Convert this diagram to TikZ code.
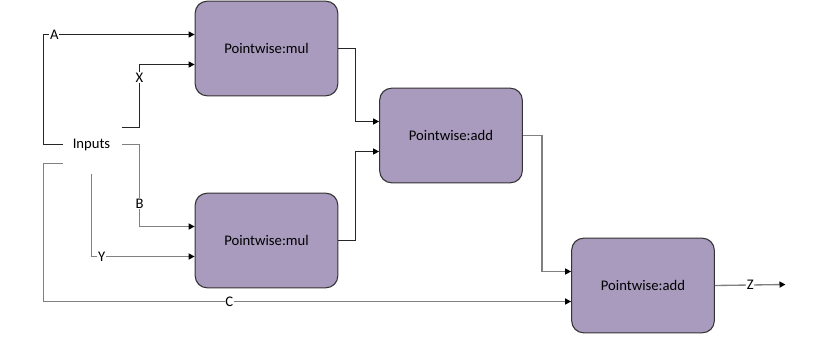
\documentclass[tikz,border=0pt]{standalone}
\usepackage{fontspec}
\setmainfont{Carlito}
\usetikzlibrary{arrows.meta,calc}
\definecolor{opfill}{RGB}{169,155,190}
\tikzset{op/.style={draw=black!80,fill=opfill,rounded corners=9pt,minimum width=107pt,minimum height=71pt,inner sep=2pt,line width=0.8pt},
  lbl/.style={fill=white,inner sep=0.6pt},
  arr/.style={-{Triangle[length=4.5pt,width=4.5pt,color=black]},line width=0.75pt,draw=black!85},
  arrg/.style={arr,draw=black!50,line width=1pt}}

\begin{document}
\begin{tikzpicture}[x=0.75pt,y=-0.75pt,font=\fontsize{11}{13}\selectfont]
\useasboundingbox (-0.5,-0.5) rectangle (814.5,342.5);
\node[op] (m1) at (266,48){Pointwise:mul}; \node[op] (m2) at (266,240){Pointwise:mul};
\node[op] (a1) at (450.5,135){Pointwise:add}; \node[op] (a2) at (642.5,285){Pointwise:add};
\node (in) at (91,144){Inputs};
\coordinate (ia) at (62,144); \coordinate (ic) at (62,163); \coordinate (ix) at (121,127);
\coordinate (ib) at (121,144); \coordinate (iy) at (91,173); \coordinate (z) at (785,284);
\draw[arr] (ia) -- ++(-19,0) |- node[lbl,pos=.536]{A} ($(m1.west)+(0,-14)$);
\draw[arr] (ix) -- ++(18,0) |- node[lbl,pos=.397]{X} ($(m1.west)+(0,16)$);
\draw[arrg] (ib) -- ++(18,0) |- node[lbl,pos=.36]{B} ($(m2.west)+(0,-14)$);
\draw[arrg] (iy) |- node[lbl,pos=.549]{Y} ($(m2.west)+(0,16)$);
\draw[arrg] (ic) -- ++(-19,0) |- node[lbl,pos=.676]{C} ($(a2.west)+(0,16)$);
\draw[arr] (m1.east) -- ++(17,0) |- ($(a1.west)+(0,-14)$); \draw[arr] (m2.east) -- ++(17,0) |- ($(a1.west)+(0,16)$);
\draw[arrg] (a1.east) -- ++(19,0) |- ($(a2.west)+(0,-14)$);
\draw[arrg] (a2.east) -- node[lbl]{Z} (z);
\end{tikzpicture}
\end{document}
